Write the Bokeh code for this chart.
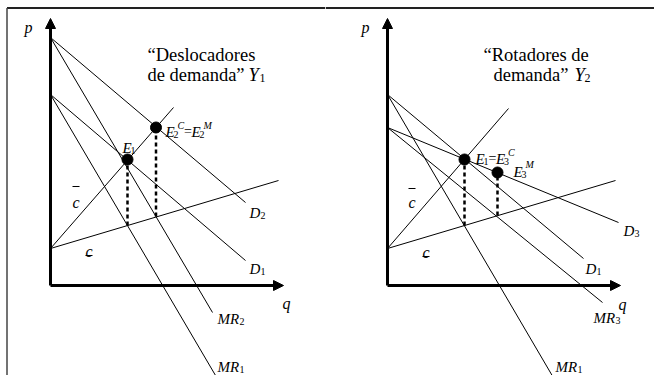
from bokeh.plotting import figure
from bokeh.layouts import row
from bokeh.models import Range1d, Arrow, NormalHead
from bokeh.core.properties import value
from bokeh.embed import file_html
from bokeh.resources import INLINE

SERIF = "Liberation Serif"

# ---------------- data (diagram units: quantity q, price p) ----------------
# Left panel: "Deslocadores de demanda" Y1
L_names = ["D2", "D1", "MR2", "MR1", "MC_high", "MC_low"]
L_q0 = [0, 0, 0, 0, 0, 0]
L_p0 = [24.8, 19.1, 24.8, 19.1, 3.7, 3.7]
L_q1 = [19.5, 19.5, 16.2, 16.8, 12.3, 22.8]
L_p1 = [8.3, 2.5, -2.7, -9.5, 17.8, 10.5]
L_eq_q = [7.7, 10.55]          # E1, E2
L_eq_p = [12.6, 15.8]
L_mc_low = [6.0, 6.9]          # low marginal cost at the equilibrium quantities

# Right panel: "Rotadores de demanda" Y2
R_names = ["D1", "D3", "MR1", "MR3", "MC_high", "MC_low"]
R_q0 = [0, 0, 0, 0, 0, 0]
R_p0 = [19.1, 15.8, 19.1, 15.8, 3.7, 3.7]
R_q1 = [19.6, 23.1, 16.7, 21.5, 12.1, 22.8]
R_p1 = [2.7, 6.3, -9.4, -1.7, 17.7, 10.5]
R_eq_q = [7.7, 11.0]           # E1=E3^C, E3^M
R_eq_p = [12.6, 11.3]
R_mc_low = [6.0, 7.0]

AXIS_Q_MAX = 23.3
AXIS_P_MAX = 26.7

# ---------------- labels (text runs: text, dx px, dy px, size, style) ----------------
IT, RG = "italic", "normal"
TS = 18.5
L_labels = [
    (-2.6, 25.8, [("p", 0, 0, 16, IT)]),
    (23.2, -1.8, [("q", 0, 0, 16, IT)]),
    (19.9, 7.3, [("D", 0, 0, 15, IT), ("2", 11, 3, 10, RG)]),
    (19.9, 1.7, [("D", 0, 0, 15, IT), ("1", 11, 3, 10, RG)]),
    (16.7, -3.3, [("MR", 0, 0, 15, IT), ("2", 22, 3, 10, RG)]),
    (16.7, -8.1, [("MR", 0, 0, 15, IT), ("1", 22, 3, 10, RG)]),
    (7.2, 13.8, [("E", 0, 0, 15, IT), ("1", 8, 3, 10, RG)]),
    (11.5, 15.4, [("E", 0, 0, 15, IT), ("2", 8, 3, 10, RG), ("C", 12, -6, 10, IT),
                  ("=", 18.5, 0, 14, RG), ("E", 26, 0, 15, IT), ("2", 34, 3, 10, RG),
                  ("M", 38, -6, 10, IT)]),
    (2.2, 8.3, [("c", 0, 0, 16, IT)]),
    (3.5, 3.4, [("c", 0, 0, 16, IT)]),
    (9.7, 23.1, [("\u201cDeslocadores", 0, 0, TS, RG)]),
    (9.7, 21.1, [("de demanda\u201d", 0, 0, TS, RG), ("Y", 101, 0, TS, IT),
                 ("1", 112, 3, 12, RG)]),
]
L_bars = [(2.2, 2.9, 9.9), (3.5, 4.2, 3.0)]

R_labels = [
    (-2.6, 25.8, [("p", 0, 0, 16, IT)]),
    (23.1, -1.9, [("q", 0, 0, 16, IT)]),
    (23.6, 5.5, [("D", 0, 0, 15, IT), ("3", 11, 3, 10, RG)]),
    (19.8, 1.7, [("D", 0, 0, 15, IT), ("1", 11, 3, 10, RG)]),
    (20.6, -3.2, [("MR", 0, 0, 15, IT), ("3", 22, 3, 10, RG)]),
    (16.8, -8.1, [("MR", 0, 0, 15, IT), ("1", 22, 3, 10, RG)]),
    (8.8, 12.7, [("E", 0, 0, 15, IT), ("1", 8, 3, 10, RG), ("=", 13, 0, 14, RG),
                 ("E", 20.5, 0, 15, IT), ("3", 28.5, 3, 10, RG), ("C", 32.5, -6, 10, IT)]),
    (12.6, 11.4, [("E", 0, 0, 15, IT), ("3", 8, 3, 10, RG), ("M", 12, -7, 10, IT)]),
    (2.1, 8.3, [("c", 0, 0, 16, IT)]),
    (3.5, 3.3, [("c", 0, 0, 16, IT)]),
    (9.6, 23.1, [("\u201cRotadores de", 0, 0, TS, RG)]),
    (10.6, 21.1, [("demanda\u201d", 0, 0, TS, RG), ("Y", 81, 0, TS, IT),
                  ("2", 91, 3, 12, RG)]),
]
R_bars = [(2.1, 2.8, 9.7), (3.5, 4.2, 2.9)]

PX = 10.0  # pixels per diagram unit
H = 375
Y0 = -9.0
TOP_LINE = 27.75
LEFT_LINE = -4.35


def panel(width, xstart, q0, p0, q1, p1, eq_q, eq_p, mc_low, labels, bars, left_border):
    xend = xstart + width / PX
    p = figure(width=width, height=H, x_range=Range1d(xstart, xend),
               y_range=Range1d(Y0, Y0 + H / PX), output_backend="svg",
               toolbar_location=None, x_axis_type=None, y_axis_type=None,
               min_border=0)
    p.outline_line_color = None
    p.grid.visible = False
    p.background_fill_color = "white"
    p.border_fill_color = "white"

    # frame lines of the original figure box
    xl = LEFT_LINE if left_border else xstart
    p.segment([xl], [TOP_LINE], [xend], [TOP_LINE], line_color="#222222", line_width=2)
    if left_border:
        p.segment([LEFT_LINE], [TOP_LINE], [LEFT_LINE], [Y0],
                  line_color="#444444", line_width=1.5)

    # demand, MR and cost lines
    p.segment(q0, p0, q1, p1, line_color="black", line_width=1)
    # dashed verticals
    p.segment(eq_q, mc_low, eq_q, eq_p, line_color="black", line_width=2.5,
              line_dash="4 3")
    # equilibrium dots
    p.scatter(eq_q, eq_p, size=11, color="black")

    # axes with arrowheads
    p.segment([0, 0], [0, 0], [0, AXIS_Q_MAX - 0.6], [AXIS_P_MAX - 0.6, 0],
              line_color="black", line_width=3)
    head = dict(size=10, fill_color="black", line_color="black", line_width=1)
    p.add_layout(Arrow(end=NormalHead(**head), x_start=0, y_start=AXIS_P_MAX - 1.5,
                       x_end=0, y_end=AXIS_P_MAX, line_alpha=0))
    p.add_layout(Arrow(end=NormalHead(**head), x_start=AXIS_Q_MAX - 1.5, y_start=0,
                       x_end=AXIS_Q_MAX, y_end=0, line_alpha=0))

    # over/under bars of c
    for (a, b, y) in bars:
        p.segment([a], [y], [b], [y], line_color="black", line_width=1.1)

    for (x, y, runs) in labels:
        for (t, dx, dy, size, style) in runs:
            p.text(x=[x + dx / PX], y=[y - dy / PX], text=[t],
                   text_font=value(SERIF), text_font_size=f"{size}px",
                   text_font_style=style, text_align="left",
                   text_baseline="alphabetic", text_color="black")
    return p


left = panel(325, -5.0, L_q0, L_p0, L_q1, L_p1, L_eq_q, L_eq_p, L_mc_low,
             L_labels, L_bars, True)
right = panel(329, -6.2, R_q0, R_p0, R_q1, R_p1, R_eq_q, R_eq_p, R_mc_low,
              R_labels, R_bars, False)

layout = row(left, right)
open("out.html", "w").write(file_html(layout, INLINE))
